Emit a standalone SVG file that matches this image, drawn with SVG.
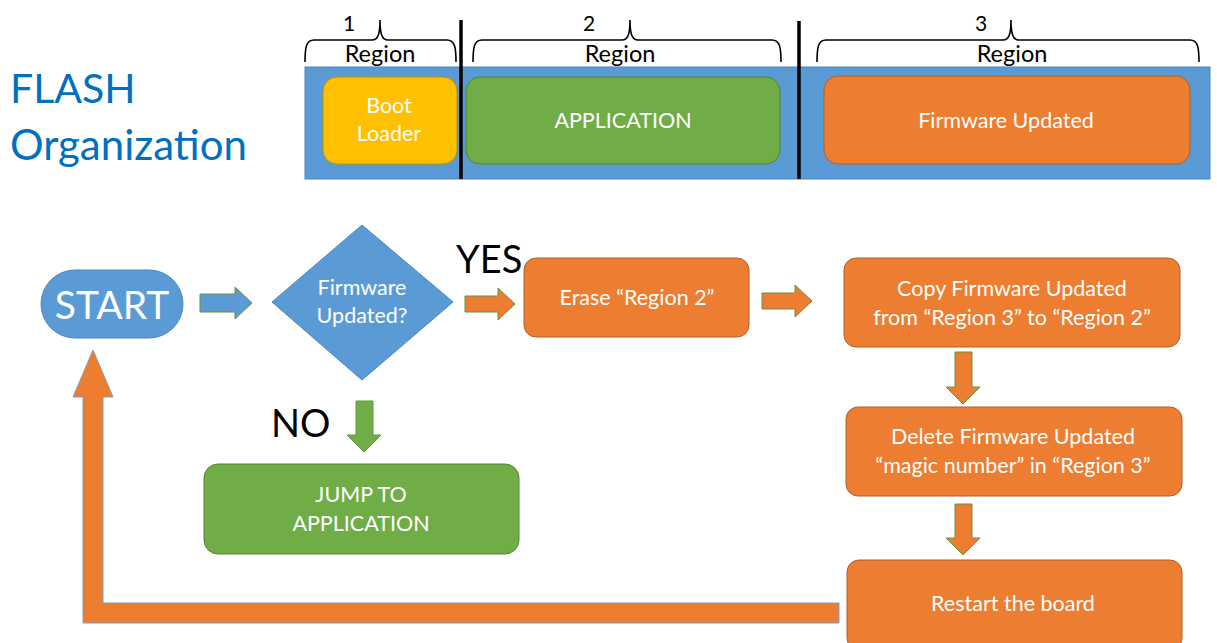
<svg xmlns="http://www.w3.org/2000/svg" width="1217" height="643" viewBox="0 0 1217 643">
  <style>
    text { font-family: Lato, "Open Sans", "Liberation Sans", sans-serif; }
    .w { fill: #ffffff; font-size: 21.5px; text-anchor: middle; }
    .k { fill: #000000; }
    .lbl { font-size: 23.5px; text-anchor: middle; fill: #000; }
    .num { font-size: 21px; fill: #000; }
    .brace { fill: none; stroke: #000; stroke-width: 1.6; }
    .sep { stroke: #000; stroke-width: 3.5; }
    .orange { fill: #ED7D31; stroke: #B0602A; stroke-width: 1; }
    .green { fill: #70AD47; stroke: #548235; stroke-width: 1; }
    .yellow { fill: #FFC000; stroke: #C09000; stroke-width: 1; }
    .blue { fill: #5B9BD5; stroke: #4A86BE; stroke-width: 1; }
    .arr-o { fill: #ED7D31; stroke: #6E8F3E; stroke-width: 1; }
    .arr-b { fill: #5B9BD5; stroke: #6E8F3E; stroke-width: 1; }
    .arr-g { fill: #70AD47; stroke: #5E9A3A; stroke-width: 1; }
  </style>

  <!-- title -->
  <g id="title">
    <text x="10" y="103" font-size="41" fill="#0070C0">FLASH</text>
    <text x="10" y="160" font-size="42" fill="#0070C0">Organization</text>
  </g>

  <!-- flash memory map -->
  <g id="flash-map">
    <rect x="305" y="67" width="905" height="112" fill="#5B9BD5" stroke="#4A86BE" stroke-width="1"/>
    <line class="sep" x1="461" y1="20" x2="461" y2="179"/>
    <line class="sep" x1="799" y1="21" x2="799" y2="179"/>
  </g>
  <g id="boot-loader">
    <rect class="yellow" x="323" y="77" width="134" height="87" rx="14"/>
    <text class="w" x="389" y="113">Boot</text>
    <text class="w" x="389" y="141">Loader</text>
  </g>
  <g id="application">
    <rect class="green" x="466" y="77" width="314" height="87" rx="14"/>
    <text class="w" x="623" y="128">APPLICATION</text>
  </g>
  <g id="firmware-updated">
    <rect class="orange" x="824" y="76" width="366" height="88" rx="14"/>
    <text class="w" x="1006" y="128">Firmware Updated</text>
  </g>

  <!-- region braces -->
  <g id="region-1">
    <path class="brace" d="M305,62 C305,48 306,40 314,40 L372,40 C378,40 380,34 380,20 C380,34 382,40 388,40 L447,40 C455,40 456,48 456,62"/>
    <text class="num" x="343" y="31">1</text>
    <text class="lbl" x="380" y="62">Region</text>
  </g>
  <g id="region-2">
    <path class="brace" d="M473,62 C473,48 474,40 482,40 L622,40 C628,40 630,34 630,20 C630,34 632,40 638,40 L772,40 C780,40 781,48 781,62"/>
    <text class="num" x="583" y="31">2</text>
    <text class="lbl" x="620" y="62">Region</text>
  </g>
  <g id="region-3">
    <path class="brace" d="M817,62 C817,48 818,40 826,40 L1003,40 C1009,40 1011,34 1011,20 C1011,34 1013,40 1019,40 L1190,40 C1198,40 1199,48 1199,62"/>
    <text class="num" x="975" y="31">3</text>
    <text class="lbl" x="1012" y="62">Region</text>
  </g>

  <!-- flowchart nodes -->
  <g id="start">
    <rect class="blue" x="41" y="270" width="142" height="68" rx="34"/>
    <text x="112" y="319" font-size="39" fill="#fff" text-anchor="middle">START</text>
  </g>
  <g id="decision">
    <polygon class="blue" points="362,225 453,302 362,380 272,302"/>
    <text class="w" x="362" y="295">Firmware</text>
    <text class="w" x="362" y="323">Updated?</text>
  </g>
  <g id="yes-label">
    <text class="k" x="456" y="273" font-size="38">YES</text>
  </g>
  <g id="no-label">
    <text class="k" x="271" y="437" font-size="38">NO</text>
  </g>
  <g id="erase">
    <rect class="orange" x="524" y="258" width="225" height="79" rx="12"/>
    <text class="w" x="637" y="305">Erase “Region 2”</text>
  </g>
  <g id="copy">
    <rect class="orange" x="844" y="258" width="336" height="89" rx="12"/>
    <text class="w" x="1012" y="296">Copy Firmware Updated</text>
    <text class="w" x="1012" y="325">from “Region 3” to “Region 2”</text>
  </g>
  <g id="delete">
    <rect class="orange" x="846" y="407" width="336" height="89" rx="12"/>
    <text class="w" x="1013" y="444">Delete Firmware Updated</text>
    <text class="w" x="1013" y="473">“magic number” in “Region 3”</text>
  </g>
  <g id="restart">
    <rect class="orange" x="847" y="560" width="335" height="90" rx="12"/>
    <text class="w" x="1013" y="611">Restart the board</text>
  </g>
  <g id="jump">
    <rect class="green" x="204" y="464" width="315" height="90" rx="14"/>
    <text class="w" x="361" y="502">JUMP TO</text>
    <text class="w" x="361" y="531">APPLICATION</text>
  </g>

  <!-- connectors: block arrows -->
  <g id="connectors">
    <polygon class="arr-b" points="200,294 235,294 235,287 252,303 235,319 235,312 200,312"/>
    <polygon class="arr-o" points="465,296 498,296 498,288 515,304 498,320 498,312 465,312"/>
    <polygon class="arr-o" points="762,293 795,293 795,285 812,301 795,317 795,309 762,309"/>
    <polygon class="arr-o" points="955,352 972,352 972,387 980,387 963,404 946,387 955,387"/>
    <polygon class="arr-o" points="955,504 972,504 972,538 980,538 963,555 946,538 955,538"/>
    <polygon class="arr-g" points="356,401 373,401 373,435 381,435 364,452 347,435 356,435"/>
    <polygon fill="#ED7D31" stroke="#7F9DBA" stroke-width="1" points="839,603 839,623 83,623 83,397 73,397 93,350 113,397 103,397 103,603"/>
  </g>
</svg>
